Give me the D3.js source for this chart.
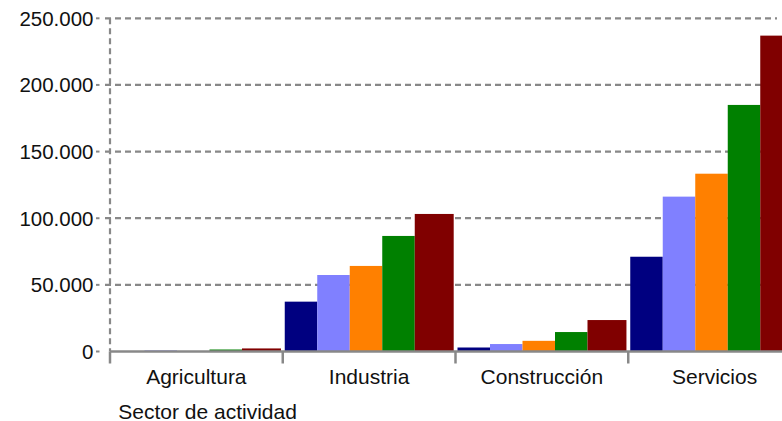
<!DOCTYPE html>
<html>
<head>
<meta charset="utf-8">
<script src="https://cdn.jsdelivr.net/npm/d3@7"></script>
<style>
  html, body { margin: 0; padding: 0; background: #fff; overflow: hidden; }
  svg { display: block; font-family: "Liberation Sans", Arial, sans-serif; }
</style>
</head>
<body>
<svg id="chart" width="782" height="421"></svg>
<script>
const categories = ["Agricultura", "Industria", "Construcción", "Servicios"];
const seriesNames = ["Serie 1", "Serie 2", "Serie 3", "Serie 4", "Serie 5"];
const seriesColors = ["#000080", "#8080ff", "#ff8000", "#008000", "#800000"];
const serie1 = [200, 37400, 3000, 71100];
const serie2 = [800, 57400, 5600, 116200];
const serie3 = [300, 64200, 8000, 133400];
const serie4 = [1500, 86700, 14600, 185000];
const serie5 = [2300, 103200, 23600, 237000];
const yTicks = [0, 50000, 100000, 150000, 200000, 250000];
const xTitle = "Sector de actividad";

const seriesValues = [serie1, serie2, serie3, serie4, serie5];

(function () {
const svg = d3.select("#chart");
const mLeft = 110, mRight = 801, mTop = 18.3, mBottom = 351.5;
const gridRight = 777;

const fmt = d3.formatLocale({decimal: ",", thousands: ".", grouping: [3], currency: ["", "€"]}).format(",d");

const y = d3.scaleLinear().domain([0, 250000]).range([mBottom, mTop]);
const x0 = d3.scaleBand().domain(categories).range([mLeft, mRight]).paddingInner(0).paddingOuter(0);
const x1 = d3.scaleBand().domain(seriesNames).range([2, 2 + 5 * 32.5]);

const gridColor = "#888888";

// gridlines
svg.append("g").selectAll("line").data(yTicks.filter(d => d > 0)).join("line")
  .attr("x1", 105).attr("x2", gridRight)
  .attr("y1", d => y(d)).attr("y2", d => y(d))
  .attr("stroke", gridColor).attr("stroke-width", 2.2)
  .attr("stroke-dasharray", "6,4");

// bars
const rows = [];
categories.forEach((c, ci) => {
  seriesNames.forEach((s, si) => {
    rows.push({cat: c, ser: s, si: si, value: seriesValues[si][ci]});
  });
});
const lastSer = seriesNames[seriesNames.length - 1];
svg.append("g").selectAll("rect").data(rows).join("rect")
  .attr("x", d => x0(d.cat) + x1(d.ser))
  .attr("width", d => d.ser === lastSer ? x0.bandwidth() - 1.8 - x1(d.ser) : x1.bandwidth())
  .attr("y", d => y(d.value))
  .attr("height", d => y(0) - y(d.value))
  .attr("fill", d => seriesColors[d.si]);

// y axis dashed line
svg.append("line")
  .attr("x1", mLeft).attr("x2", mLeft)
  .attr("y1", mTop).attr("y2", mBottom)
  .attr("stroke", gridColor).attr("stroke-width", 2.2)
  .attr("stroke-dasharray", "6,4");

// x axis line
svg.append("line")
  .attr("x1", mLeft).attr("x2", 782)
  .attr("y1", y(0)).attr("y2", y(0))
  .attr("stroke", gridColor).attr("stroke-width", 2.5);

// x ticks at category boundaries
const boundaries = categories.map(c => x0(c)).concat([x0(categories[categories.length - 1]) + x0.bandwidth()]);
svg.append("g").selectAll("line").data(boundaries).join("line")
  .attr("x1", d => d).attr("x2", d => d)
  .attr("y1", y(0)).attr("y2", y(0) + 12)
  .attr("stroke", gridColor).attr("stroke-width", 2.5);

// y tick marks & labels
svg.append("g").selectAll("line").data(yTicks).join("line")
  .attr("x1", 96).attr("x2", 99.5)
  .attr("y1", d => y(d)).attr("y2", d => y(d))
  .attr("stroke", gridColor).attr("stroke-width", 2);
svg.append("g").selectAll("text").data(yTicks).join("text")
  .attr("x", 93.5).attr("y", d => y(d))
  .attr("dy", "0.36em")
  .attr("text-anchor", "end")
  .attr("font-size", "20.5px")
  .attr("fill", "#111")
  .text(d => fmt(d));

// category labels
svg.append("g").selectAll("text").data(categories).join("text")
  .attr("x", d => x0(d) + x0.bandwidth() / 2)
  .attr("y", 383.5)
  .attr("text-anchor", "middle")
  .attr("font-size", "21px")
  .attr("fill", "#111")
  .text(d => d);

// x axis title
svg.append("text")
  .attr("x", 118.3).attr("y", 418.5)
  .attr("font-size", "21px")
  .attr("fill", "#111")
  .text(xTitle);
})();
</script>
</body>
</html>
